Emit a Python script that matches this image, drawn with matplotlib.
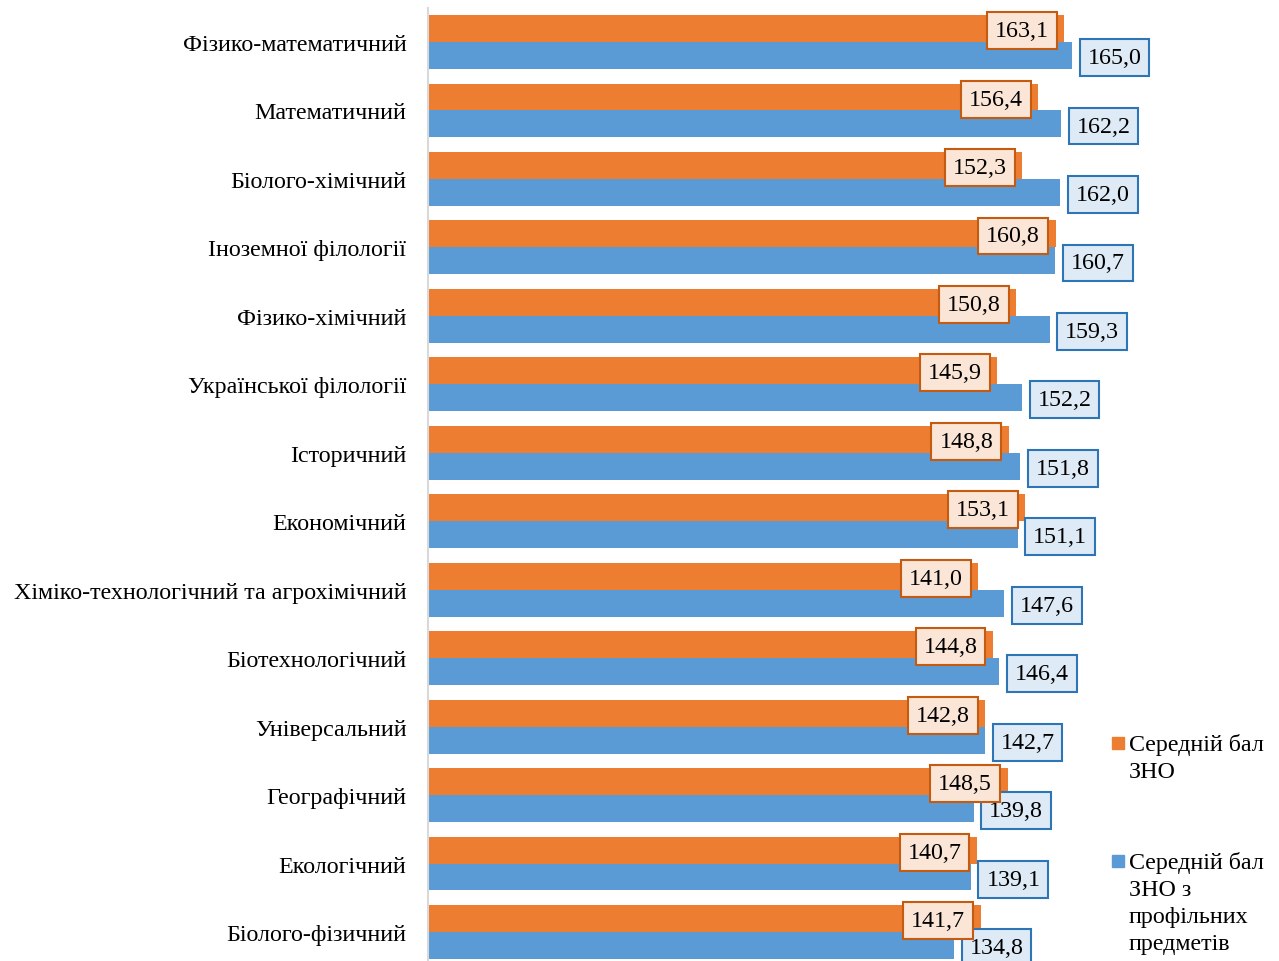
import numpy as np
import matplotlib.pyplot as plt
from matplotlib.patches import Rectangle

plt.rcParams['font.family'] = ['Liberation Serif', 'DejaVu Serif']

categories = ['Фізико-математичний', 'Математичний', 'Біолого-хімічний',
              'Іноземної філології', 'Фізико-хімічний', 'Української філології',
              'Історичний', 'Економічний', 'Хіміко-технологічний та агрохімічний',
              'Біотехнологічний', 'Універсальний', 'Географічний', 'Екологічний',
              'Біолого-фізичний']
zno = [163.1, 156.4, 152.3, 160.8, 150.8, 145.9, 148.8, 153.1, 141.0, 144.8,
       142.8, 148.5, 140.7, 141.7]
zno_prof = [165.0, 162.2, 162.0, 160.7, 159.3, 152.2, 151.8, 151.1, 147.6, 146.4,
            142.7, 139.8, 139.1, 134.8]
legend_labels = ['Середній бал\nЗНО', 'Середній бал\nЗНО з\nпрофільних\nпредметів']

orange = '#ED7D31'
blue = '#5B9BD5'
fs = 17.3

W, H = 1279, 962
fig = plt.figure(figsize=(W / 100, H / 100), dpi=100)
ax = fig.add_axes([428 / W, 1 - 967.2 / H, 672 / W, 958.4 / H])

y = np.arange(len(categories))
h = 0.394
ax.barh(y - h / 2, zno, height=h, color=orange, zorder=2)
ax.barh(y + h / 2, zno_prof, height=h, color=blue, zorder=2)

ax.set_xlim(0, 172.2)
ax.set_ylim(13.5, -0.5)
ax.set_xticks([])
ax.set_yticks(y)
ax.set_yticklabels(categories, fontsize=fs)
ax.tick_params(axis='y', length=0, pad=15.5)
for s in ['top', 'right', 'bottom']:
    ax.spines[s].set_visible(False)
ax.spines['left'].set_color('#D9D9D9')
ax.spines['left'].set_linewidth(1.5)


def fmt(v):
    return f'{v:.1f}'.replace('.', ',')


for i, v in enumerate(zno):
    ax.annotate(fmt(v), (v, i - h / 2), xytext=(-11.2, -1.5), textcoords='offset points',
                ha='right', va='center', fontsize=fs, zorder=5,
                bbox=dict(boxstyle='square,pad=0.33', fc='#FBE5D6', ec='#C55A11', lw=1.5))
for i, v in enumerate(zno_prof):
    ax.annotate(fmt(v), (v, i + h / 2), xytext=(11.2, -1.5), textcoords='offset points',
                ha='left', va='center', fontsize=fs, zorder=4,
                bbox=dict(boxstyle='square,pad=0.33', fc='#DEEBF7', ec='#2E75B6', lw=1.5))

# legend
for col, lab, ymid in [(orange, legend_labels[0], 744), (blue, legend_labels[1], 862)]:
    fig.patches.append(Rectangle((1112 / W, 1 - (ymid + 6) / H), 12 / W, 12 / H,
                                 transform=fig.transFigure, color=col))
    fig.text(1129 / W, 1 - (ymid - 10) / H, lab, fontsize=fs, va='top', ha='left',
             linespacing=1.37)

fig.savefig('out.png', dpi=100)
